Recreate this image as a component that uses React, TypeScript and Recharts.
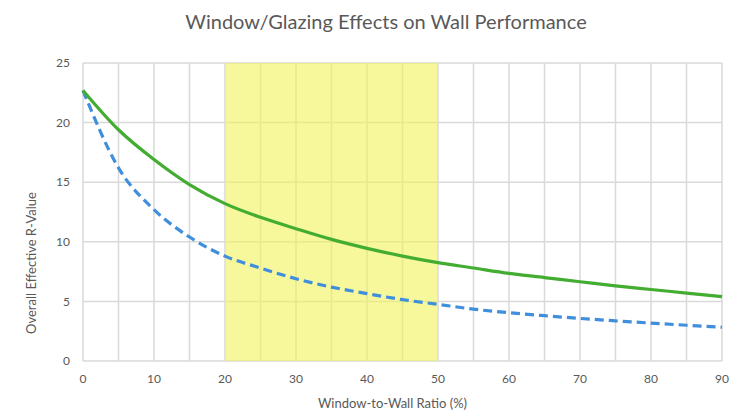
import { LineChart, Line, XAxis, YAxis, CartesianGrid, ReferenceArea } from 'recharts';

// window-to-wall ratio (%) sampled every 5 points
const ratios = [0, 5, 10, 15, 20, 25, 30, 35, 40, 45, 50, 55, 60, 65, 70, 75, 80, 85, 90];
// overall effective R-value, solid green curve
const upperRValues = [22.7, 19.4, 16.9, 14.8, 13.2, 12.05, 11.1, 10.2, 9.45, 8.8, 8.25, 7.8, 7.35, 7.0, 6.65, 6.3, 6.0, 5.7, 5.4];
// overall effective R-value, dashed blue curve
const lowerRValues = [22.7, 16.2, 12.7, 10.4, 8.8, 7.8, 6.9, 6.2, 5.65, 5.15, 4.75, 4.35, 4.05, 3.8, 3.57, 3.37, 3.18, 3.0, 2.83];

const xTicks = [0, 5, 10, 15, 20, 25, 30, 35, 40, 45, 50, 55, 60, 65, 70, 75, 80, 85, 90];
const yTicks = [0, 5, 10, 15, 20, 25];
// highlighted ratio band
const bandStart = 20;
const bandEnd = 50;

const FONT = 'Lato, "Open Sans", sans-serif';
const TEXT_COLOR = '#595959';

const data = ratios.map((ratio, i) => ({
  ratio,
  upper: upperRValues[i],
  lower: lowerRValues[i],
}));

const XAxisTitle = ({ viewBox }: any) => (
  <text
    x={viewBox.x + viewBox.width / 2 - 10}
    y={viewBox.y + 47}
    textAnchor="middle"
    fontFamily={FONT}
    fontSize={13}
    fill={TEXT_COLOR}
  >
    Window-to-Wall Ratio (%)
  </text>
);

const YAxisTitle = ({ viewBox }: any) => {
  const cx = viewBox.x + 36;
  const cy = viewBox.y + viewBox.height / 2 + 51;
  return (
    <text
      x={cx}
      y={cy}
      transform={`rotate(-90 ${cx} ${cy})`}
      textAnchor="middle"
      fontFamily={FONT}
      fontSize={13}
      fill={TEXT_COLOR}
    >
      Overall Effective R-Value
    </text>
  );
};

export default function App() {
  return (
    <div style={{ position: 'absolute', left: 0, top: 0, width: 742, height: 411, background: '#fff' }}>
      <div
        style={{
          position: 'absolute',
          top: 9,
          left: 0,
          width: 742,
          textAlign: 'center',
          fontFamily: FONT,
          fontSize: 20,
          color: TEXT_COLOR,
          paddingLeft: 30,
          boxSizing: 'border-box',
        }}
      >
        Window/Glazing Effects on Wall Performance
      </div>
      <LineChart
        width={742}
        height={411}
        data={data}
        margin={{ top: 63, right: 20, bottom: 0, left: 0 }}
      >
        <CartesianGrid stroke="#d9d9d9" strokeWidth={1.5} />
        <ReferenceArea x1={bandStart} x2={bandEnd} y1={0} y2={25} fill="#f2f25a" fillOpacity={0.6} stroke="none" />
        <XAxis
          dataKey="ratio"
          type="number"
          domain={[0, 90]}
          ticks={xTicks}
          interval={0}
          tickFormatter={(v: number) => (v % 10 === 0 ? String(v) : '')}
          axisLine={false}
          tickLine={false}
          tickSize={0}
          tickMargin={13}
          height={50}
          tick={{ fontFamily: FONT, fontSize: 12, fill: TEXT_COLOR }}
          label={{ content: XAxisTitle }}
        />
        <YAxis
          type="number"
          domain={[0, 25]}
          ticks={yTicks}
          interval={0}
          axisLine={false}
          tickLine={false}
          tickSize={0}
          tickMargin={13}
          width={83}
          tick={{ fontFamily: FONT, fontSize: 12, fill: TEXT_COLOR }}
          label={{ content: YAxisTitle }}
        />
        <Line
          type="monotone"
          dataKey="lower"
          stroke="#3f8fdc"
          strokeWidth={3.2}
          strokeDasharray="9 5"
          dot={false}
          isAnimationActive={false}
        />
        <Line
          type="monotone"
          dataKey="upper"
          stroke="#43ad32"
          strokeWidth={3.2}
          dot={false}
          isAnimationActive={false}
        />
      </LineChart>
    </div>
  );
}
